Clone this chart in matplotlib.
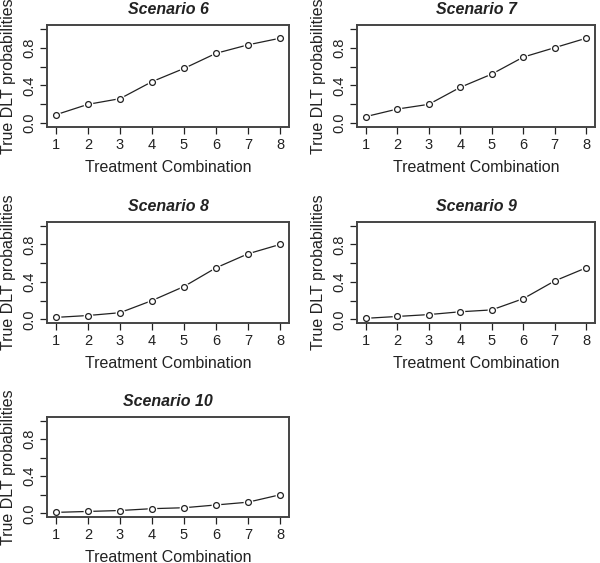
import matplotlib
matplotlib.use("Agg")
import matplotlib.pyplot as plt
import numpy as np

plt.rcParams['font.family'] = ['Liberation Sans', 'DejaVu Sans']

combos = [1, 2, 3, 4, 5, 6, 7, 8]
titles = ["Scenario 6", "Scenario 7", "Scenario 8", "Scenario 9", "Scenario 10"]
s6 = [0.09, 0.20, 0.26, 0.44, 0.58, 0.74, 0.83, 0.90]
s7 = [0.07, 0.15, 0.20, 0.38, 0.52, 0.70, 0.80, 0.90]
s8 = [0.02, 0.04, 0.07, 0.20, 0.35, 0.55, 0.70, 0.80]
s9 = [0.01, 0.03, 0.05, 0.08, 0.10, 0.22, 0.41, 0.55]
s10 = [0.01, 0.02, 0.03, 0.05, 0.06, 0.09, 0.12, 0.20]
series = [s6, s7, s8, s9, s10]

W, H = 600, 563
fig = plt.figure(figsize=(W / 100, H / 100), dpi=100)

# axes boxes in pixels: left, top, right, bottom
boxes = [(47, 25, 289, 127), (357, 25, 595, 127),
         (47, 222, 289, 323), (357, 222, 595, 323),
         (47, 417, 289, 517)]

txt = '#222222'
for (l, t, r, b), title, y in zip(boxes, titles, series):
    ax = fig.add_axes([l / W, 1 - b / H, (r - l) / W, (b - t) / H])
    ax.plot(combos, y, color=txt, lw=0.9, zorder=1)
    # white halo for R-style type="b" gaps
    ax.plot(combos, y, 'o', ms=7, mfc='white', mec='none', zorder=2)
    ax.plot(combos, y, 'o', ms=4.2, mfc='white', mec=txt, mew=0.9, zorder=3)
    ax.set_xlim(1 - 0.28, 8 + 0.28)
    ax.set_ylim(-0.04, 1.04)
    ax.set_xticks(combos)
    ax.set_yticks([0, 0.2, 0.4, 0.6, 0.8, 1.0])
    ax.set_yticklabels(['0.0', '', '0.4', '', '0.8', ''], rotation=90, va='center')
    ax.tick_params(axis='both', length=5, width=0.9, color=txt, labelcolor=txt, labelsize=10.5)
    ax.tick_params(axis='x', pad=3)
    ax.tick_params(axis='y', pad=3)
    for s in ax.spines.values():
        s.set_color('#444444')
        s.set_linewidth(1.4)
    ax.set_title(title, fontsize=11.5, fontweight='bold', fontstyle='italic', color=txt, pad=8)
    ax.set_xlabel("Treatment Combination", fontsize=11.5, color=txt, labelpad=6)
    ax.set_ylabel("True DLT probabilities", fontsize=11.5, color=txt, labelpad=4)

fig.savefig("out.png", dpi=100)
